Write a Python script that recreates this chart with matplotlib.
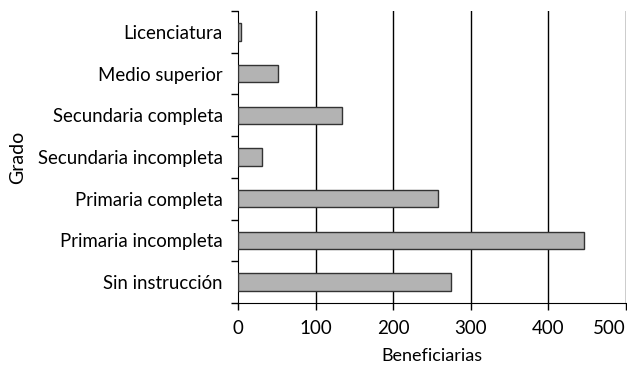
import matplotlib
matplotlib.use("Agg")
import matplotlib.pyplot as plt
import numpy as np

categories = ["Sin instrucción", "Primaria incompleta", "Primaria completa",
              "Secundaria incompleta", "Secundaria completa", "Medio superior",
              "Licenciatura"]
values = [275, 446, 258, 31, 134, 52, 4]
xticks = [0, 100, 200, 300, 400, 500]

plt.rcParams['font.family'] = ['Lato', 'DejaVu Sans']

fig = plt.figure(figsize=(6.27, 3.66), dpi=100)
ax = fig.add_axes([238/627, 1 - 303/366, (626 - 238)/627, (303 - 11)/366])

y = np.arange(len(categories))
ax.barh(y, values, height=0.42, color="#b3b3b3", edgecolor="#333333", linewidth=1.0, zorder=3)

ax.set_xlim(0, 500)
ax.set_ylim(-0.5, len(categories) - 0.5)
ax.set_xticks(xticks)
ax.set_xticklabels([str(t) for t in xticks], fontsize=13.5)
ax.get_xticklabels()[-1].set_horizontalalignment('right')
ax.set_yticks(y)
ax.set_yticklabels(categories, fontsize=13.4)
ax.tick_params(axis='y', which='major', length=0, pad=11)
ax.set_yticks(np.arange(-0.5, len(categories), 1.0), minor=True)
ax.tick_params(axis='y', which='minor', length=5, width=1, color='black')
ax.tick_params(axis='x', which='major', length=5, width=1, pad=7, color='black')

for t in xticks[1:]:
    ax.axvline(t, color='black', linewidth=1.0, zorder=1)

for s in ['top', 'right']:
    ax.spines[s].set_visible(False)
ax.spines['left'].set_color('black')
ax.spines['bottom'].set_color('black')

ax.set_xlabel("Beneficiarias", fontsize=13, labelpad=8)
ax.set_ylabel("Grado", fontsize=14, labelpad=8)

fig.savefig("out.png", dpi=100)
